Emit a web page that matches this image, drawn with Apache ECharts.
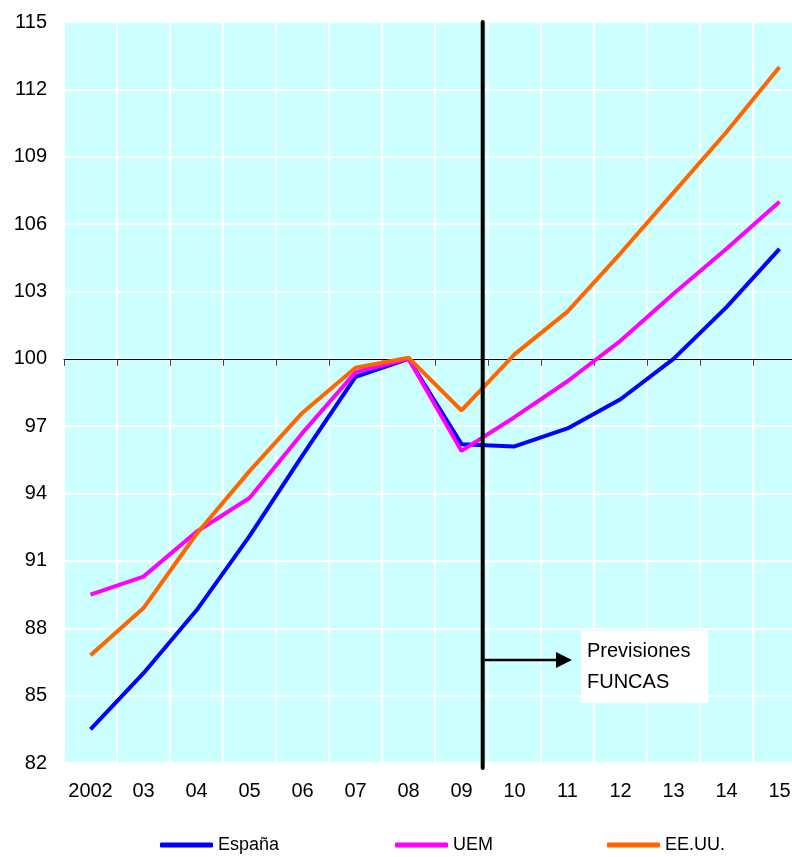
<!DOCTYPE html>
<html>
<head>
<meta charset="utf-8">
<script src="https://cdn.jsdelivr.net/npm/echarts@6/dist/echarts.min.js"></script>
<style>
  html, body { margin: 0; padding: 0; background: #fff; }
  #chart { width: 792px; height: 857px; }
</style>
</head>
<body>
<div id="chart"></div>
<script>
const years = ['2002', '03', '04', '05', '06', '07', '08', '09', '10', '11', '12', '13', '14', '15'];
const espana = [83.5, 86.0, 88.8, 92.1, 95.7, 99.2, 100.0, 96.2, 96.1, 96.9, 98.2, 100.0, 102.3, 104.9];
const uem = [89.5, 90.3, 92.3, 93.8, 96.7, 99.4, 100.0, 95.9, 97.4, 99.0, 100.8, 102.9, 104.9, 107.0];
const eeuu = [86.8, 88.9, 92.2, 95.0, 97.6, 99.6, 100.05, 97.7, 100.2, 102.1, 104.7, 107.4, 110.1, 113.0];
const yMin = 82;
const yMax = 115;
const yStep = 3;
const forecastStart = 7.4; // between 09 and 10, in category units

const FONT = "'Liberation Sans', Arial, sans-serif";
const colors = { 'España': '#0000ff', UEM: '#ff00ff', 'EE.UU.': '#ff6600' };

const makeLine = (name, data) => ({
  name,
  type: 'line',
  data,
  symbol: 'none',
  xAxisIndex: 0,
  yAxisIndex: 0,
  lineStyle: { color: colors[name], width: 4 },
  itemStyle: { color: colors[name] },
  animation: false,
  z: 3,
});

const legendItem = (name, left) => ({
  data: [name],
  left,
  top: 836,
  padding: 0,
  icon: 'roundRect',
  itemWidth: 53,
  itemHeight: 5,
  textStyle: { fontFamily: FONT, fontSize: 18, color: '#000' },
});

const chart = echarts.init(document.getElementById('chart'));

// the plot area runs a little past the right edge of the picture
const gridBase = { left: 64, top: 22, width: 742, outerBoundsMode: 'none', containLabel: false };

const option = {
  backgroundColor: '#fff',
  textStyle: { fontFamily: FONT },
  grid: [
    { ...gridBase, height: 741, show: true, backgroundColor: '#ccffff', borderWidth: 0 },
    // overlay grid whose bottom axis sits on the 100 line
    { ...gridBase, height: 741 * (yMax - 100) / (yMax - yMin), show: false },
  ],
  legend: [legendItem('España', 160), legendItem('UEM', 395), legendItem('EE.UU.', 607)],
  xAxis: [
    {
      type: 'category',
      gridIndex: 0,
      data: years,
      boundaryGap: true,
      axisLine: { show: false },
      axisTick: { show: false, interval: 0 },
      axisLabel: { color: '#000', fontSize: 20, fontFamily: FONT, margin: 18, interval: 0 },
      splitLine: { show: true, interval: 0, lineStyle: { color: '#fff', width: 2 } },
    },
    {
      type: 'category',
      gridIndex: 1,
      data: years,
      boundaryGap: true,
      axisLine: { show: true, lineStyle: { color: '#000', width: 1 } },
      axisTick: { show: true, interval: 0, length: 7, lineStyle: { color: '#444', width: 1 } },
      axisLabel: { show: false, interval: 0 },
      splitLine: { show: false },
    },
  ],
  yAxis: [
    {
      type: 'value',
      gridIndex: 0,
      min: yMin,
      max: yMax,
      interval: yStep,
      axisLine: { show: false },
      axisTick: { show: false },
      axisLabel: { color: '#000', fontSize: 20, fontFamily: FONT, margin: 17 },
      splitLine: { show: true, lineStyle: { color: '#fff', width: 2 } },
    },
    { type: 'value', gridIndex: 1, min: 100, max: yMax, show: false },
  ],
  series: [makeLine('España', espana), makeLine('UEM', uem), makeLine('EE.UU.', eeuu)],
};

chart.setOption(option);

// forecast divider, arrow and note
const x0 = chart.convertToPixel({ xAxisIndex: 0 }, years[Math.floor(forecastStart)]);
const x1 = chart.convertToPixel({ xAxisIndex: 0 }, years[Math.floor(forecastStart) + 1]);
const xLine = x0 + (forecastStart - Math.floor(forecastStart)) * (x1 - x0);
const yTop = chart.convertToPixel({ yAxisIndex: 0 }, yMax);
const yBottom = chart.convertToPixel({ yAxisIndex: 0 }, yMin) + 5;

chart.setOption({
  graphic: [
    {
      type: 'line',
      shape: { x1: xLine, y1: yTop, x2: xLine, y2: yBottom },
      style: { stroke: '#000', lineWidth: 4, lineCap: 'round' },
      z: 10,
    },
    {
      type: 'line',
      shape: { x1: xLine + 2, y1: 660, x2: 558, y2: 660 },
      style: { stroke: '#000', lineWidth: 2.5 },
      z: 10,
    },
    {
      type: 'polygon',
      shape: { points: [[556, 652], [572, 660], [556, 668]] },
      style: { fill: '#000' },
      z: 10,
    },
    {
      type: 'rect',
      shape: { x: 581, y: 631, width: 127, height: 72 },
      style: { fill: '#fff' },
      z: 10,
    },
    {
      type: 'text',
      x: 587,
      y: 636,
      style: {
        text: 'Previsiones\nFUNCAS',
        fill: '#000',
        font: `20px ${FONT}`,
        lineHeight: 31,
      },
      z: 11,
    },
  ],
});
</script>
</body>
</html>
